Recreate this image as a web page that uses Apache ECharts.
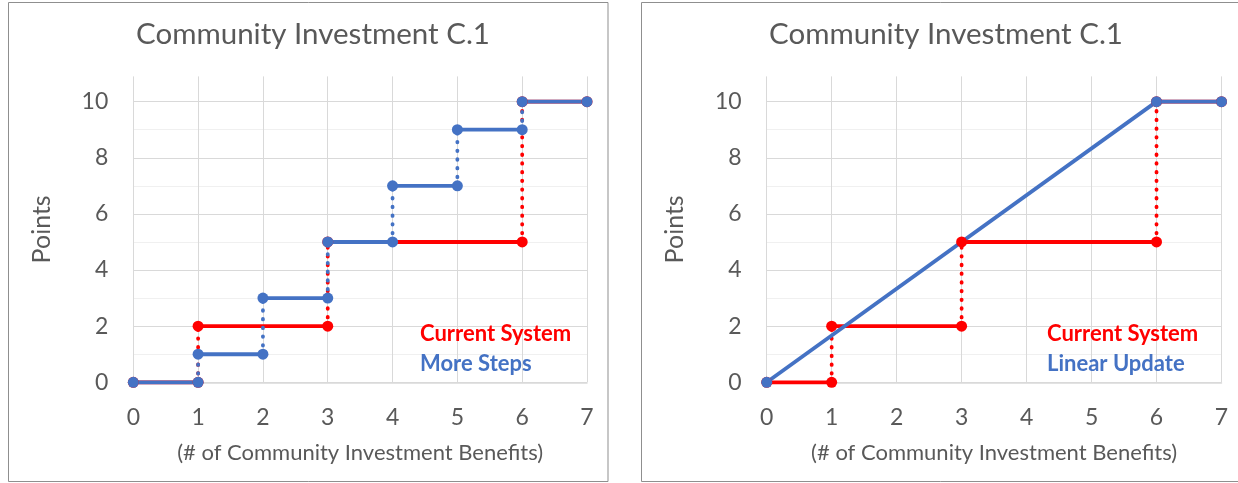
<!DOCTYPE html>
<html>
<head>
<meta charset="utf-8">
<script src="https://cdn.jsdelivr.net/npm/echarts@6/dist/echarts.min.js"></script>
<style>
html,body{margin:0;padding:0;background:#fff;}
#c{width:1238px;height:483px;}
</style>
</head>
<body>
<div id="c"></div>
<script>
// ---- Data ----
const titleText = 'Community Investment C.1';
const xAxisName = '(# of Community Investment Benefits)';
const yAxisName = 'Points';
const xTicks = [0, 1, 2, 3, 4, 5, 6, 7];
const yTicks = [0, 2, 4, 6, 8, 10];

// Current System: step boundaries and level on each step
const currentX = [0, 1, 3, 6, 7];
const currentY = [0, 2, 5, 10];

// More Steps: step boundaries and level on each step
const moreStepsX = [0, 1, 2, 3, 4, 5, 6, 7];
const moreStepsY = [0, 1, 3, 5, 7, 9, 10];

// Linear Update: points
const linearX = [0, 6, 7];
const linearY = [0, 10, 10];

const legendLeft = ['Current System', 'More Steps'];
const legendRight = ['Current System', 'Linear Update'];

// ---- Styles ----
const RED = '#FF0000';
const BLUE = '#4472C4';
const TXT = '#595959';
const FONT = 'Lato, "Open Sans", sans-serif';
const LW = 3.8;

function stepSeries(xs, ys, color, name, axisIdx) {
  const out = [];
  // dotted risers
  for (let i = 1; i < ys.length; i++) {
    out.push({
      type: 'line', name: name, xAxisIndex: axisIdx, yAxisIndex: axisIdx, clip: false,
      data: [[xs[i], ys[i - 1]], [xs[i], ys[i]]],
      showSymbol: false, symbol: 'none', silent: true,
      lineStyle: { color: color, width: LW, type: [0.5, 8.2], cap: 'round' }
    });
  }
  // solid treads with markers
  for (let i = 0; i < ys.length; i++) {
    out.push({
      type: 'line', name: name, xAxisIndex: axisIdx, yAxisIndex: axisIdx, clip: false,
      data: [[xs[i], ys[i]], [xs[i + 1], ys[i]]],
      symbol: 'circle', symbolSize: 11, showSymbol: true, silent: true,
      itemStyle: { color: color },
      lineStyle: { color: color, width: LW }
    });
  }
  return out;
}

function lineSeries(xs, ys, color, name, axisIdx) {
  return [{
    type: 'line', name: name, xAxisIndex: axisIdx, yAxisIndex: axisIdx, clip: false,
    data: xs.map((x, i) => [x, ys[i]]),
    symbol: 'circle', symbolSize: 11, showSymbol: true, silent: true,
    itemStyle: { color: color },
    lineStyle: { color: color, width: LW }
  }];
}

function xAxisCfg(gi) {
  return {
    type: 'value', gridIndex: gi, min: 0, max: 7, interval: 1,
    name: xAxisName, nameLocation: 'middle', nameGap: 60,
    nameTextStyle: { color: TXT, fontSize: 22, fontFamily: FONT },
    axisLine: { show: true, lineStyle: { color: '#d9d9d9', width: 1.5 } },
    axisTick: { show: false },
    axisLabel: { color: TXT, fontSize: 23, fontFamily: FONT, margin: 24,
      formatter: v => xTicks.includes(v) ? String(v) : '' },
    splitLine: { show: true, lineStyle: { color: '#d9d9d9', width: 1 } }
  };
}

function yAxisCfg(gi) {
  return {
    type: 'value', gridIndex: gi, min: 0, max: 10.9, interval: 1,
    name: yAxisName, nameLocation: 'middle', nameGap: 79, nameRotate: 90,
    nameTextStyle: { color: TXT, fontSize: 25, fontFamily: FONT },
    axisLine: { show: false }, axisTick: { show: false },
    axisLabel: { color: TXT, fontSize: 23, fontFamily: FONT, margin: 25,
      showMaxLabel: false,
      formatter: v => yTicks.includes(v) ? String(v) : '' },
    splitLine: { show: true, showMaxLine: false,
      lineStyle: { color: ['#d9d9d9', '#f0f0f0'], width: 1 } }
  };
}

const chart = echarts.init(document.getElementById('c'), null, { renderer: 'canvas' });

const series = []
  .concat(stepSeries(currentX, currentY, RED, legendLeft[0], 0))
  .concat(stepSeries(moreStepsX, moreStepsY, BLUE, legendLeft[1], 0))
  .concat(stepSeries(currentX, currentY, RED, legendRight[0], 1))
  .concat(lineSeries(linearX, linearY, BLUE, legendRight[1], 1));

const legendStyle = (c) => ({ color: c, fontSize: 22, fontWeight: 'bold', fontFamily: FONT });

chart.setOption({
  animation: false,
  backgroundColor: '#fff',
  title: [
    { text: titleText, left: 308, top: 14, textAlign: 'center',
      textStyle: { color: TXT, fontSize: 29.5, fontWeight: 'normal', fontFamily: FONT } },
    { text: titleText, left: 941, top: 14, textAlign: 'center',
      textStyle: { color: TXT, fontSize: 29.5, fontWeight: 'normal', fontFamily: FONT } },
    { text: legendLeft[0], left: 415, top: 318, textStyle: legendStyle(RED) },
    { text: legendLeft[1], left: 415, top: 348, textStyle: legendStyle(BLUE) },
    { text: legendRight[0], left: 1042, top: 318, textStyle: legendStyle(RED) },
    { text: legendRight[1], left: 1042, top: 348, textStyle: legendStyle(BLUE) }
  ],
  grid: [
    { left: 133.3, right: 651, top: 76.4, bottom: 100.7 },
    { left: 766.7, right: 16.5, top: 76.4, bottom: 100.7 }
  ],
  xAxis: [xAxisCfg(0), xAxisCfg(1)],
  yAxis: [yAxisCfg(0), yAxisCfg(1)],
  graphic: [
    { type: 'rect', shape: { x: 8.5, y: 2.5, width: 599.5, height: 479 }, silent: true,
      style: { fill: 'none', stroke: '#8f8f8f', lineWidth: 1 }, z: 100 },
    { type: 'rect', shape: { x: 641.5, y: 2.5, width: 600, height: 479 }, silent: true,
      style: { fill: 'none', stroke: '#8f8f8f', lineWidth: 1 }, z: 100 }
  ],
  series: series
});
</script>
</body>
</html>
